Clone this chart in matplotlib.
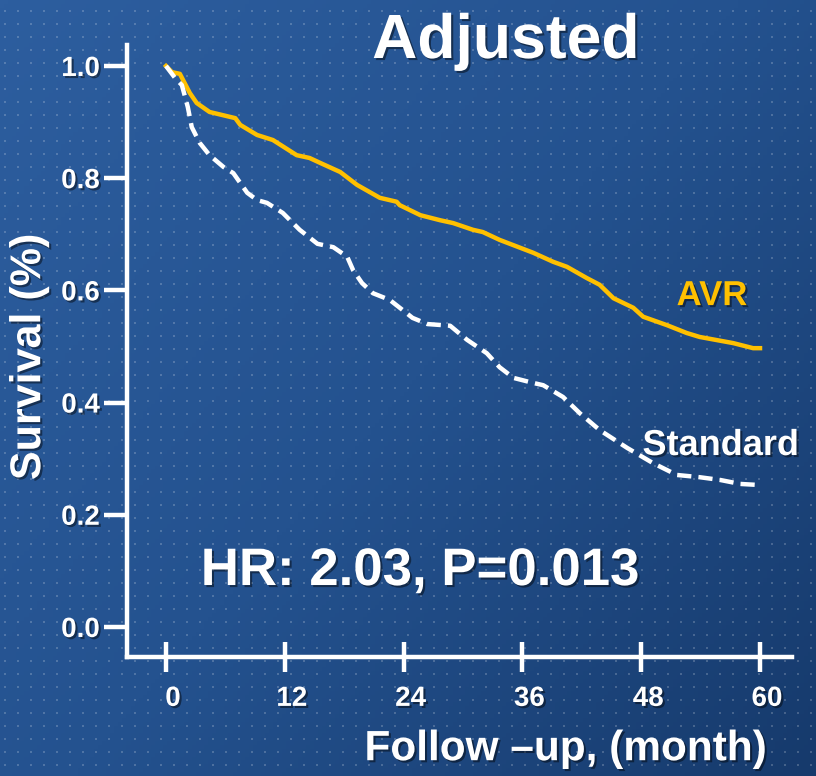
import numpy as np
import matplotlib
matplotlib.use("Agg")
import matplotlib.pyplot as plt
import matplotlib.patheffects as pe
from matplotlib.colors import LinearSegmentedColormap
from matplotlib.transforms import ScaledTranslation

plt.rcParams['font.family'] = ['Liberation Sans', 'DejaVu Sans']
plt.rcParams['font.weight'] = 'bold'

# survival curves (months, survival fraction)
months_avr = [0, 0.6, 1.4, 2.4, 3.1, 4.4, 7.0, 7.5, 9.2, 10.8, 13.2, 14.5, 15.6,
              17.6, 19.3, 21.6, 23.3, 23.6, 25.7, 27.7, 29.0, 31.0, 32.0, 33.7,
              37.1, 39.1, 40.5, 42.5, 43.8, 45.2, 47.2, 48.2, 50.6, 52.6, 53.9,
              57.3, 59.3, 60.0]
surv_avr = [1.0, 0.989, 0.986, 0.952, 0.934, 0.918, 0.907, 0.895, 0.877, 0.868,
            0.841, 0.836, 0.827, 0.811, 0.788, 0.765, 0.758, 0.752, 0.734, 0.725,
            0.720, 0.708, 0.704, 0.690, 0.667, 0.651, 0.642, 0.622, 0.610, 0.586,
            0.569, 0.553, 0.538, 0.524, 0.517, 0.506, 0.497, 0.497]

months_std = [0, 0.9, 1.6, 2.2, 2.6, 3.4, 4.4, 5.8, 6.8, 8.2, 9.2, 10.2, 11.8,
              13.5, 15.3, 16.9, 18.3, 18.9, 19.8, 20.9, 22.6, 23.9, 24.9, 26.4,
              28.7, 30.4, 32.4, 33.7, 35.1, 37.1, 38.1, 40.1, 41.8, 43.8, 46.6,
              49.2, 51.6, 53.9, 56.0, 58.0, 60.0]
surv_std = [1.0, 0.979, 0.966, 0.927, 0.891, 0.863, 0.841, 0.820, 0.809, 0.774,
            0.761, 0.756, 0.738, 0.708, 0.683, 0.677, 0.660, 0.636, 0.613, 0.595,
            0.583, 0.565, 0.551, 0.540, 0.537, 0.512, 0.488, 0.463, 0.444, 0.435,
            0.431, 0.410, 0.381, 0.351, 0.319, 0.292, 0.271, 0.267, 0.262, 0.255,
            0.253]

x_ticks = [0, 12, 24, 36, 48, 60]
y_ticks = [0.0, 0.2, 0.4, 0.6, 0.8, 1.0]
y_ticklabels = ['0.0', '0.2', '0.4', '0.6', '0.8', '1.0']

W, H = 816, 776
fig = plt.figure(figsize=(W / 100, H / 100), dpi=100)

# slide background: diagonal blue gradient with a faint dot grid
bg = fig.add_axes([0, 0, 1, 1], zorder=0)
cmap = LinearSegmentedColormap.from_list('slide', ['#2d5e9f', '#24528f', '#163a6c'])
gx, gy = np.meshgrid(np.linspace(0, 1, 200), np.linspace(0, 1, 200))
bg.imshow(0.55 * gx + 0.45 * gy, cmap=cmap, extent=[0, W, H, 0], aspect='auto')
dx, dy = np.meshgrid(np.arange(4.7, W, 13.0), np.arange(11.3 - 13, H, 13.0))
bg.scatter(dx.ravel(), dy.ravel(), s=2.5, marker='s', c='white', alpha=0.2, lw=0)
bg.set_xlim(0, W)
bg.set_ylim(H, 0)
bg.axis('off')

shadow = [pe.withSimplePatchShadow(offset=(1.5, -1.5), shadow_rgbFace='black', alpha=0.45)]

left, right, bottom, top = 127, 792, 657, 45
ax = fig.add_axes([left / W, 1 - bottom / H, (right - left) / W, (bottom - top) / H], zorder=1)
ax.patch.set_alpha(0)

ax.plot(months_avr, surv_avr, color='#ffc000', lw=3.2, solid_joinstyle='round')
ax.plot(months_std, surv_std, color='white', lw=3.2, linestyle=(0, (3.2, 1.6)))

ax.set_xlim(-3.94, 63.23)
ax.set_ylim(-0.0535, 1.0374)

for s in ['top', 'right']:
    ax.spines[s].set_visible(False)
for s in ['left', 'bottom']:
    ax.spines[s].set_color('white')
    ax.spines[s].set_linewidth(3.2)

ax.set_xticks(x_ticks)
ax.set_yticks(y_ticks)
ax.set_yticklabels(y_ticklabels)
ax.tick_params(axis='x', direction='inout', length=21.6, width=3.2, colors='white',
               labelsize=20, pad=10)
ax.tick_params(axis='y', direction='out', length=16.5, width=3.2, colors='white',
               labelsize=20, pad=3)

offset = ScaledTranslation(7 / 100, 0, fig.dpi_scale_trans)
for lab in ax.get_xticklabels():
    lab.set_transform(lab.get_transform() + offset)
for lab in ax.get_xticklabels() + ax.get_yticklabels():
    lab.set_fontweight('bold')
    lab.set_path_effects(shadow)

ax.set_xlabel('Follow \u2013up, (month)', fontsize=30.5, color='white', fontweight='bold',
              path_effects=shadow)
ax.xaxis.set_label_coords(0.66, -0.118)
ax.set_ylabel('Survival (%)', fontsize=31, color='white', fontweight='bold',
              path_effects=shadow)
ax.yaxis.set_label_coords(-0.117, 0.49)

ax.text(0.8797, 0.575, 'AVR', transform=ax.transAxes, ha='center', va='baseline',
        fontsize=25, color='#ffc000', fontweight='bold', path_effects=shadow)
ax.text(0.893, 0.330, 'Standard', transform=ax.transAxes, ha='center', va='baseline',
        fontsize=26, color='white', fontweight='bold', path_effects=shadow)
ax.text(0.4406, 0.1176, 'HR: 2.03, P=0.013', transform=ax.transAxes, ha='center',
        va='baseline', fontsize=38, color='white', fontweight='bold', path_effects=shadow)

fig.text(506 / W, 1 - 58 / H, 'Adjusted', ha='center', va='baseline', fontsize=45,
         color='white', fontweight='bold', path_effects=shadow)

fig.savefig('out.png', dpi=100)
